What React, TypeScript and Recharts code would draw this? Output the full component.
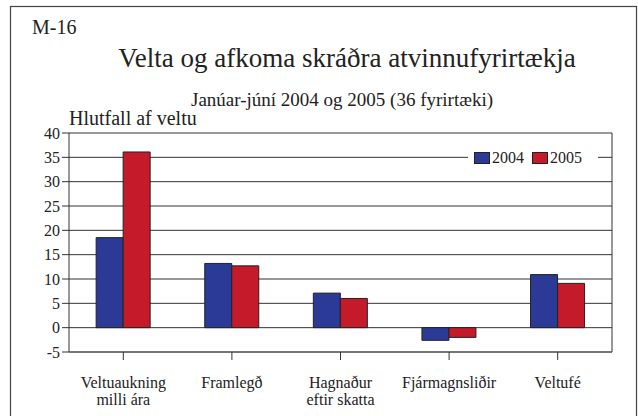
import React from "react";
import {
  Bar,
  BarChart,
  CartesianGrid,
  Legend,
  XAxis,
  YAxis,
} from "recharts";

const categories = [
  "Veltuaukning\nmilli ára",
  "Framlegð",
  "Hagnaður\neftir skatta",
  "Fjármagnsliðir",
  "Veltufé",
];
const values2004 = [18.5, 13.2, 7.1, -2.6, 10.9];
const values2005 = [36.1, 12.7, 6.0, -2.0, 9.1];
const yTicks = [-5, 0, 5, 10, 15, 20, 25, 30, 35, 40];
const minorTicks = [
  -5, -4, -3, -2, -1, 0, 1, 2, 3, 4, 5, 6, 7, 8, 9, 10, 11, 12, 13, 14, 15,
  16, 17, 18, 19, 20, 21, 22, 23, 24, 25, 26, 27, 28, 29, 30, 31, 32, 33, 34,
  35, 36, 37, 38, 39, 40,
];

const FONT = "Liberation Serif";
const BLUE = "#2b3a96";
const RED = "#c41a2a";
const INK = "#222";

const data = categories.map((name, i) => ({
  name,
  y2004: values2004[i],
  y2005: values2005[i],
}));

function XTick({ x, y, payload }: any) {
  const lines = String(payload.value).split("\n");
  return (
    <text x={x} y={y} textAnchor="middle" fontFamily={FONT} fontSize={16} fill={INK}>
      {lines.map((line, i) => (
        <tspan key={i} x={x} dy={i === 0 ? 26 : 17}>
          {line}
        </tspan>
      ))}
    </text>
  );
}

function LegendBox() {
  const items = [
    { label: "2004", color: BLUE },
    { label: "2005", color: RED },
  ];
  return (
    <div
      style={{
        display: "flex",
        alignItems: "center",
        background: "#fff",
        padding: "0 0 0 6px",
        height: 18,
        fontFamily: FONT,
        fontSize: 16,
        color: INK,
      }}
    >
      {items.map((it) => (
        <div key={it.label} style={{ display: "flex", alignItems: "center", marginRight: 8 }}>
          <span
            style={{
              display: "inline-block",
              width: 14,
              height: 10,
              background: it.color,
              border: `1px solid ${INK}`,
              marginRight: 2,
            }}
          />
          <span style={{ lineHeight: "18px" }}>{it.label}</span>
        </div>
      ))}
    </div>
  );
}

export default function App() {
  return (
    <div
      style={{
        position: "absolute",
        left: 0,
        top: 0,
        width: 638,
        height: 416,
        overflow: "hidden",
        background: "#fff",
        fontFamily: FONT,
      }}
    >
      <BarChart
        width={638}
        height={416}
        data={data}
        margin={{ top: 133, right: 25, left: 28, bottom: 14 }}
        barCategoryGap="25%"
        barGap={0}
      >
        <CartesianGrid yAxisId="main" vertical={false} stroke="#333" />
        <YAxis
          yAxisId="minor"
          width={1}
          domain={[-5, 40]}
          ticks={minorTicks}
          interval={0}
          tick={false}
          tickSize={5}
          tickLine={{ stroke: "#444" }}
          axisLine={false}
        />
        <YAxis
          yAxisId="main"
          width={40}
          domain={[-5, 40]}
          ticks={yTicks}
          interval={0}
          tickSize={7}
          tickMargin={2}
          tickLine={{ stroke: "#333" }}
          axisLine={{ stroke: "#333" }}
          tick={{ fontFamily: FONT, fontSize: 16, fill: INK }}
        />
        <YAxis
          yAxisId="right"
          orientation="right"
          width={1}
          domain={[-5, 40]}
          tick={false}
          tickLine={false}
          axisLine={{ stroke: "#333" }}
        />
        <XAxis
          dataKey="name"
          height={50}
          interval={0}
          tickSize={8}
          tickMargin={2}
          axisLine={{ stroke: "#555" }}
          tickLine={{ stroke: "#333" }}
          tick={<XTick />}
        />
        <Legend
          layout="horizontal"
          verticalAlign="middle"
          content={<LegendBox />}
          wrapperStyle={{ left: 468, top: 149, width: 130 }}
        />
        <Bar
          yAxisId="main"
          dataKey="y2004"
          name="2004"
          fill={BLUE}
          stroke={INK}
          strokeWidth={1}
          isAnimationActive={false}
        />
        <Bar
          yAxisId="main"
          dataKey="y2005"
          name="2005"
          fill={RED}
          stroke={INK}
          strokeWidth={1}
          isAnimationActive={false}
        />
      </BarChart>
      <svg
        width={638}
        height={416}
        style={{ position: "absolute", left: 0, top: 0, pointerEvents: "none" }}
      >
        <rect x={10.5} y={6.5} width={626} height={420} fill="none" stroke="#444" strokeWidth={1.2} />
        <text x={32} y={34} fontFamily={FONT} fontSize={20} fill={INK}>
          M-16
        </text>
        <text x={347} y={67} textAnchor="middle" fontFamily={FONT} fontSize={27} fill={INK}>
          Velta og afkoma skráðra atvinnufyrirtækja
        </text>
        <text x={342} y={106} textAnchor="middle" fontFamily={FONT} fontSize={19} fill={INK}>
          Janúar-júní 2004 og 2005 (36 fyrirtæki)
        </text>
        <text x={69} y={125} fontFamily={FONT} fontSize={20} fill={INK}>
          Hlutfall af veltu
        </text>
      </svg>
    </div>
  );
}
